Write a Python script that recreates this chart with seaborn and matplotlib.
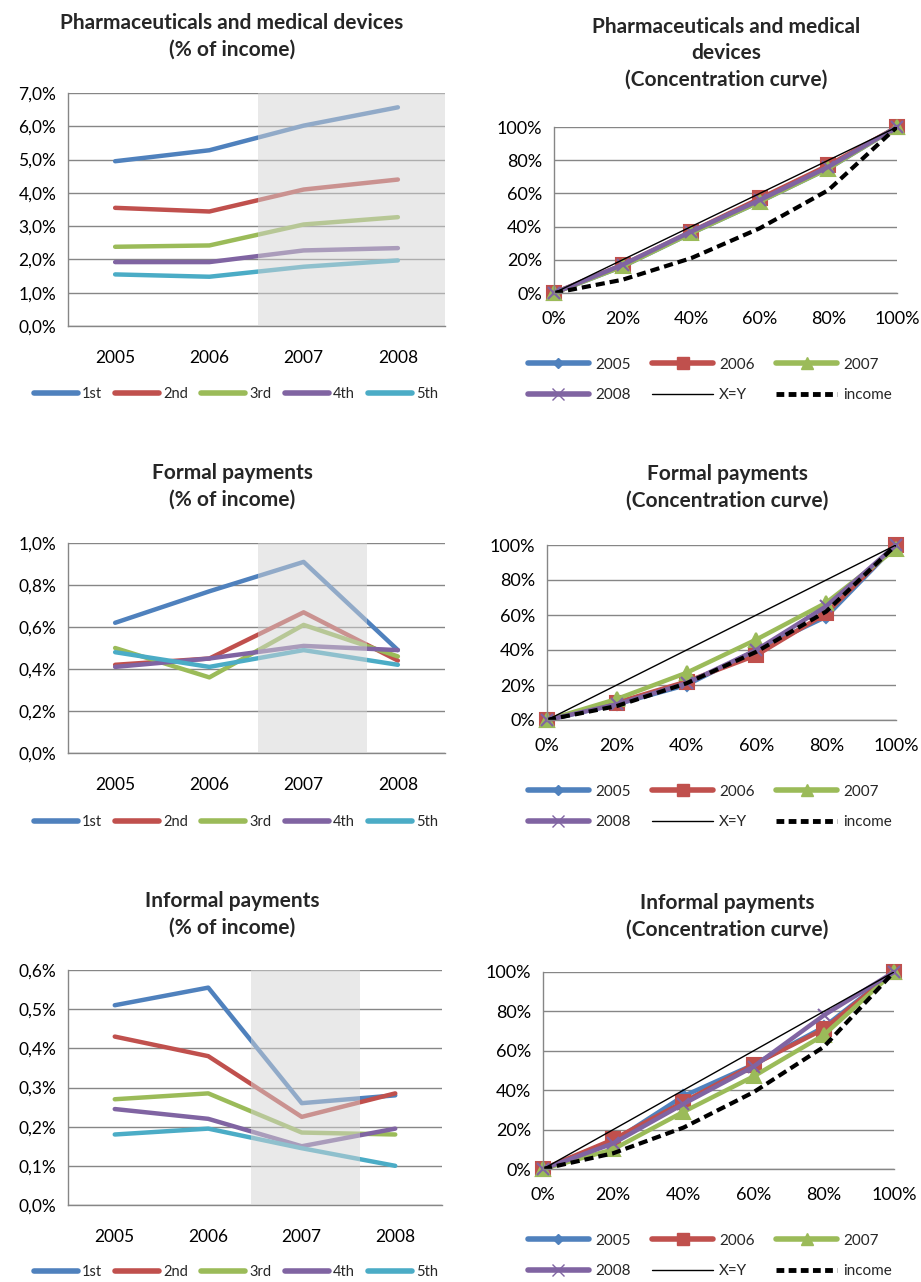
import matplotlib
matplotlib.use("Agg")
import matplotlib.pyplot as plt
import seaborn as sns
from matplotlib.ticker import FuncFormatter, FixedLocator, MultipleLocator
from matplotlib.lines import Line2D

sns.set_style("white")
plt.rcParams['font.family'] = ['Lato', 'DejaVu Sans']

W, H = 921, 1282

years = ["2005", "2006", "2007", "2008"]
quintiles = ["1st", "2nd", "3rd", "4th", "5th"]
q_colors = ["#4F81BD", "#C0504D", "#9BBB59", "#8064A2", "#4BACC6"]

# % of income by quintile (rows) and year (cols)
pharma_pct = [
    [4.95, 5.28, 6.02, 6.57],
    [3.55, 3.44, 4.10, 4.40],
    [2.38, 2.42, 3.05, 3.27],
    [1.92, 1.92, 2.27, 2.34],
    [1.55, 1.48, 1.78, 1.97],
]
formal_pct = [
    [0.62, 0.77, 0.91, 0.49],
    [0.42, 0.45, 0.67, 0.44],
    [0.50, 0.36, 0.61, 0.46],
    [0.41, 0.45, 0.51, 0.49],
    [0.48, 0.41, 0.49, 0.42],
]
informal_pct = [
    [0.51, 0.555, 0.26, 0.28],
    [0.43, 0.38, 0.225, 0.285],
    [0.27, 0.285, 0.185, 0.18],
    [0.245, 0.22, 0.15, 0.195],
    [0.18, 0.195, 0.145, 0.10],
]

# concentration curves
conc_x = [0, 20, 40, 60, 80, 100]
curve_years = ["2005", "2006", "2007", "2008"]
pharma_conc = [
    [0, 16, 36, 55, 75, 100],
    [0, 17, 37, 57, 77, 100],
    [0, 16, 36, 55, 75, 100],
    [0, 17, 37, 56, 76, 100],
]
formal_conc = [
    [0, 9, 20, 40, 59, 100],
    [0, 10, 22, 37, 61, 100],
    [0, 12, 27, 46, 67, 98],
    [0, 9, 21, 40, 65, 100],
]
informal_conc = [
    [0, 14, 37, 53, 72, 100],
    [0, 15, 34, 53, 71, 100],
    [0, 10, 29, 47, 68, 100],
    [0, 13, 33, 52, 78, 100],
]
equality_line = [0, 20, 40, 60, 80, 100]
income_conc = [0, 8, 21, 39, 62, 100]

c_markers = ["D", "s", "^", "x"]
c_msizes = [6, 10, 10, 9]

GRID = "#868686"
fig = plt.figure(figsize=(W / 100, H / 100), dpi=100)


def px_axes(x0, y_top, x1, y_bot):
    return fig.add_axes([x0 / W, 1 - y_bot / H, (x1 - x0) / W, (y_bot - y_top) / H])


def style_axes(ax, size):
    sns.despine(ax=ax)
    for s in ["left", "bottom"]:
        ax.spines[s].set_color(GRID)
        ax.spines[s].set_linewidth(1)
    ax.grid(axis="y", color=GRID, lw=1)
    ax.set_axisbelow(True)
    ax.set_xlabel("")
    ax.set_ylabel("")
    ax.tick_params(axis="both", colors=GRID, labelcolor="black", labelsize=size, length=5, width=1)


def left_panel(box, values, ymax, step, shade, legend_y):
    ax = px_axes(*box)
    xpos = list(range(len(years)))
    for name, vals, col in zip(quintiles, values, q_colors):
        sns.lineplot(x=xpos, y=vals, color=col, lw=3.2, ax=ax, label=name, legend=False,
                     solid_capstyle="round", solid_joinstyle="round")
    ax.axvspan(shade[0], shade[1], color="#d4d4d4", alpha=0.5, zorder=5, lw=0)
    ax.set_xlim(-0.5, 3.5)
    ax.set_ylim(0, ymax)
    ax.yaxis.set_major_locator(MultipleLocator(step))
    ax.yaxis.set_major_formatter(FuncFormatter(lambda v, p: f"{v:.1f}%".replace(".", ",")))
    ax.set_xticks(xpos)
    ax.set_xticklabels(years)
    ax.xaxis.set_minor_locator(FixedLocator([-0.5, 0.5, 1.5, 2.5, 3.5]))
    style_axes(ax, 12.5)
    ax.tick_params(axis="x", which="major", length=0, pad=17)
    ax.tick_params(axis="x", which="minor", length=5, color=GRID)
    if ax.get_legend():
        ax.get_legend().remove()
    handles = [Line2D([], [], color=c, lw=4, solid_capstyle="round") for c in q_colors]
    fig.legend(handles, quintiles, loc="center", bbox_to_anchor=(236 / W, 1 - legend_y / H),
               ncol=5, frameon=False, fontsize=10.5, handlelength=3.0, columnspacing=0.9,
               handletextpad=0.3)
    return ax


def right_panel(box, curves, legend_y):
    ax = px_axes(*box)
    for name, vals, col, m, ms in zip(curve_years, curves, q_colors, c_markers, c_msizes):
        sns.lineplot(x=conc_x, y=vals, color=col, lw=3.2, marker=m, markersize=ms,
                     markeredgecolor=col, markeredgewidth=1.5, ax=ax, label=name,
                     legend=False, clip_on=False)
    sns.lineplot(x=conc_x, y=equality_line, color="black", lw=1, ax=ax, label="X=Y", legend=False)
    sns.lineplot(x=conc_x, y=income_conc, color="black", lw=3, ax=ax, label="income",
                 legend=False, linestyle=(0, (2.2, 1.2)))
    ax.set_xlim(0, 100)
    ax.set_ylim(0, 100)
    ax.xaxis.set_major_locator(MultipleLocator(20))
    ax.yaxis.set_major_locator(MultipleLocator(20))
    fmt = FuncFormatter(lambda v, p: f"{v:.0f}%")
    ax.xaxis.set_major_formatter(fmt)
    ax.yaxis.set_major_formatter(fmt)
    style_axes(ax, 13)
    ax.tick_params(axis="x", pad=8)
    if ax.get_legend():
        ax.get_legend().remove()
    h = [Line2D([], [], color=c, lw=4, marker=m, markersize=ms * 0.9, markeredgecolor=c)
         for c, m, ms in zip(q_colors, c_markers, c_msizes)]
    h.append(Line2D([], [], color="black", lw=1))
    h.append(Line2D([], [], color="black", lw=3.5, linestyle=(0, (1.6, 0.9))))
    labels = curve_years + ["X=Y", "income"]
    order = [0, 3, 1, 4, 2, 5]
    fig.legend([h[i] for i in order], [labels[i] for i in order], loc="center",
               bbox_to_anchor=(710 / W, 1 - legend_y / H), ncol=3, frameon=False,
               fontsize=11, handlelength=4.0, columnspacing=1.4, handletextpad=0.4,
               labelspacing=1.1)
    return ax


def title(x, y, text):
    fig.text(x / W, 1 - y / H, text, ha="center", va="center", fontsize=15,
             fontweight="bold", linespacing=1.4)


# Row 1
left_panel((68, 93, 445, 326), pharma_pct, 7, 1, (1.52, 3.5), 394)
right_panel((554, 127, 897, 293), pharma_conc, 380)
title(232, 36, "Pharmaceuticals and medical devices\n(% of income)")
title(726, 53, "Pharmaceuticals and medical\ndevices\n(Concentration curve)")

# Row 2
left_panel((68, 543, 445, 753), formal_pct, 1.0, 0.2, (1.52, 2.67), 822)
right_panel((547, 545, 896, 720), formal_conc, 807)
title(232, 486, "Formal payments\n(% of income)")
title(727, 487, "Formal payments\n(Concentration curve)")

# Row 3
left_panel((68, 970, 442, 1205), informal_pct, 0.6, 0.1, (1.46, 2.62), 1272)
right_panel((543, 972, 894, 1169), informal_conc, 1256)
title(232, 914, "Informal payments\n(% of income)")
title(727, 916, "Informal payments\n(Concentration curve)")

fig.savefig("out.png", dpi=100)
